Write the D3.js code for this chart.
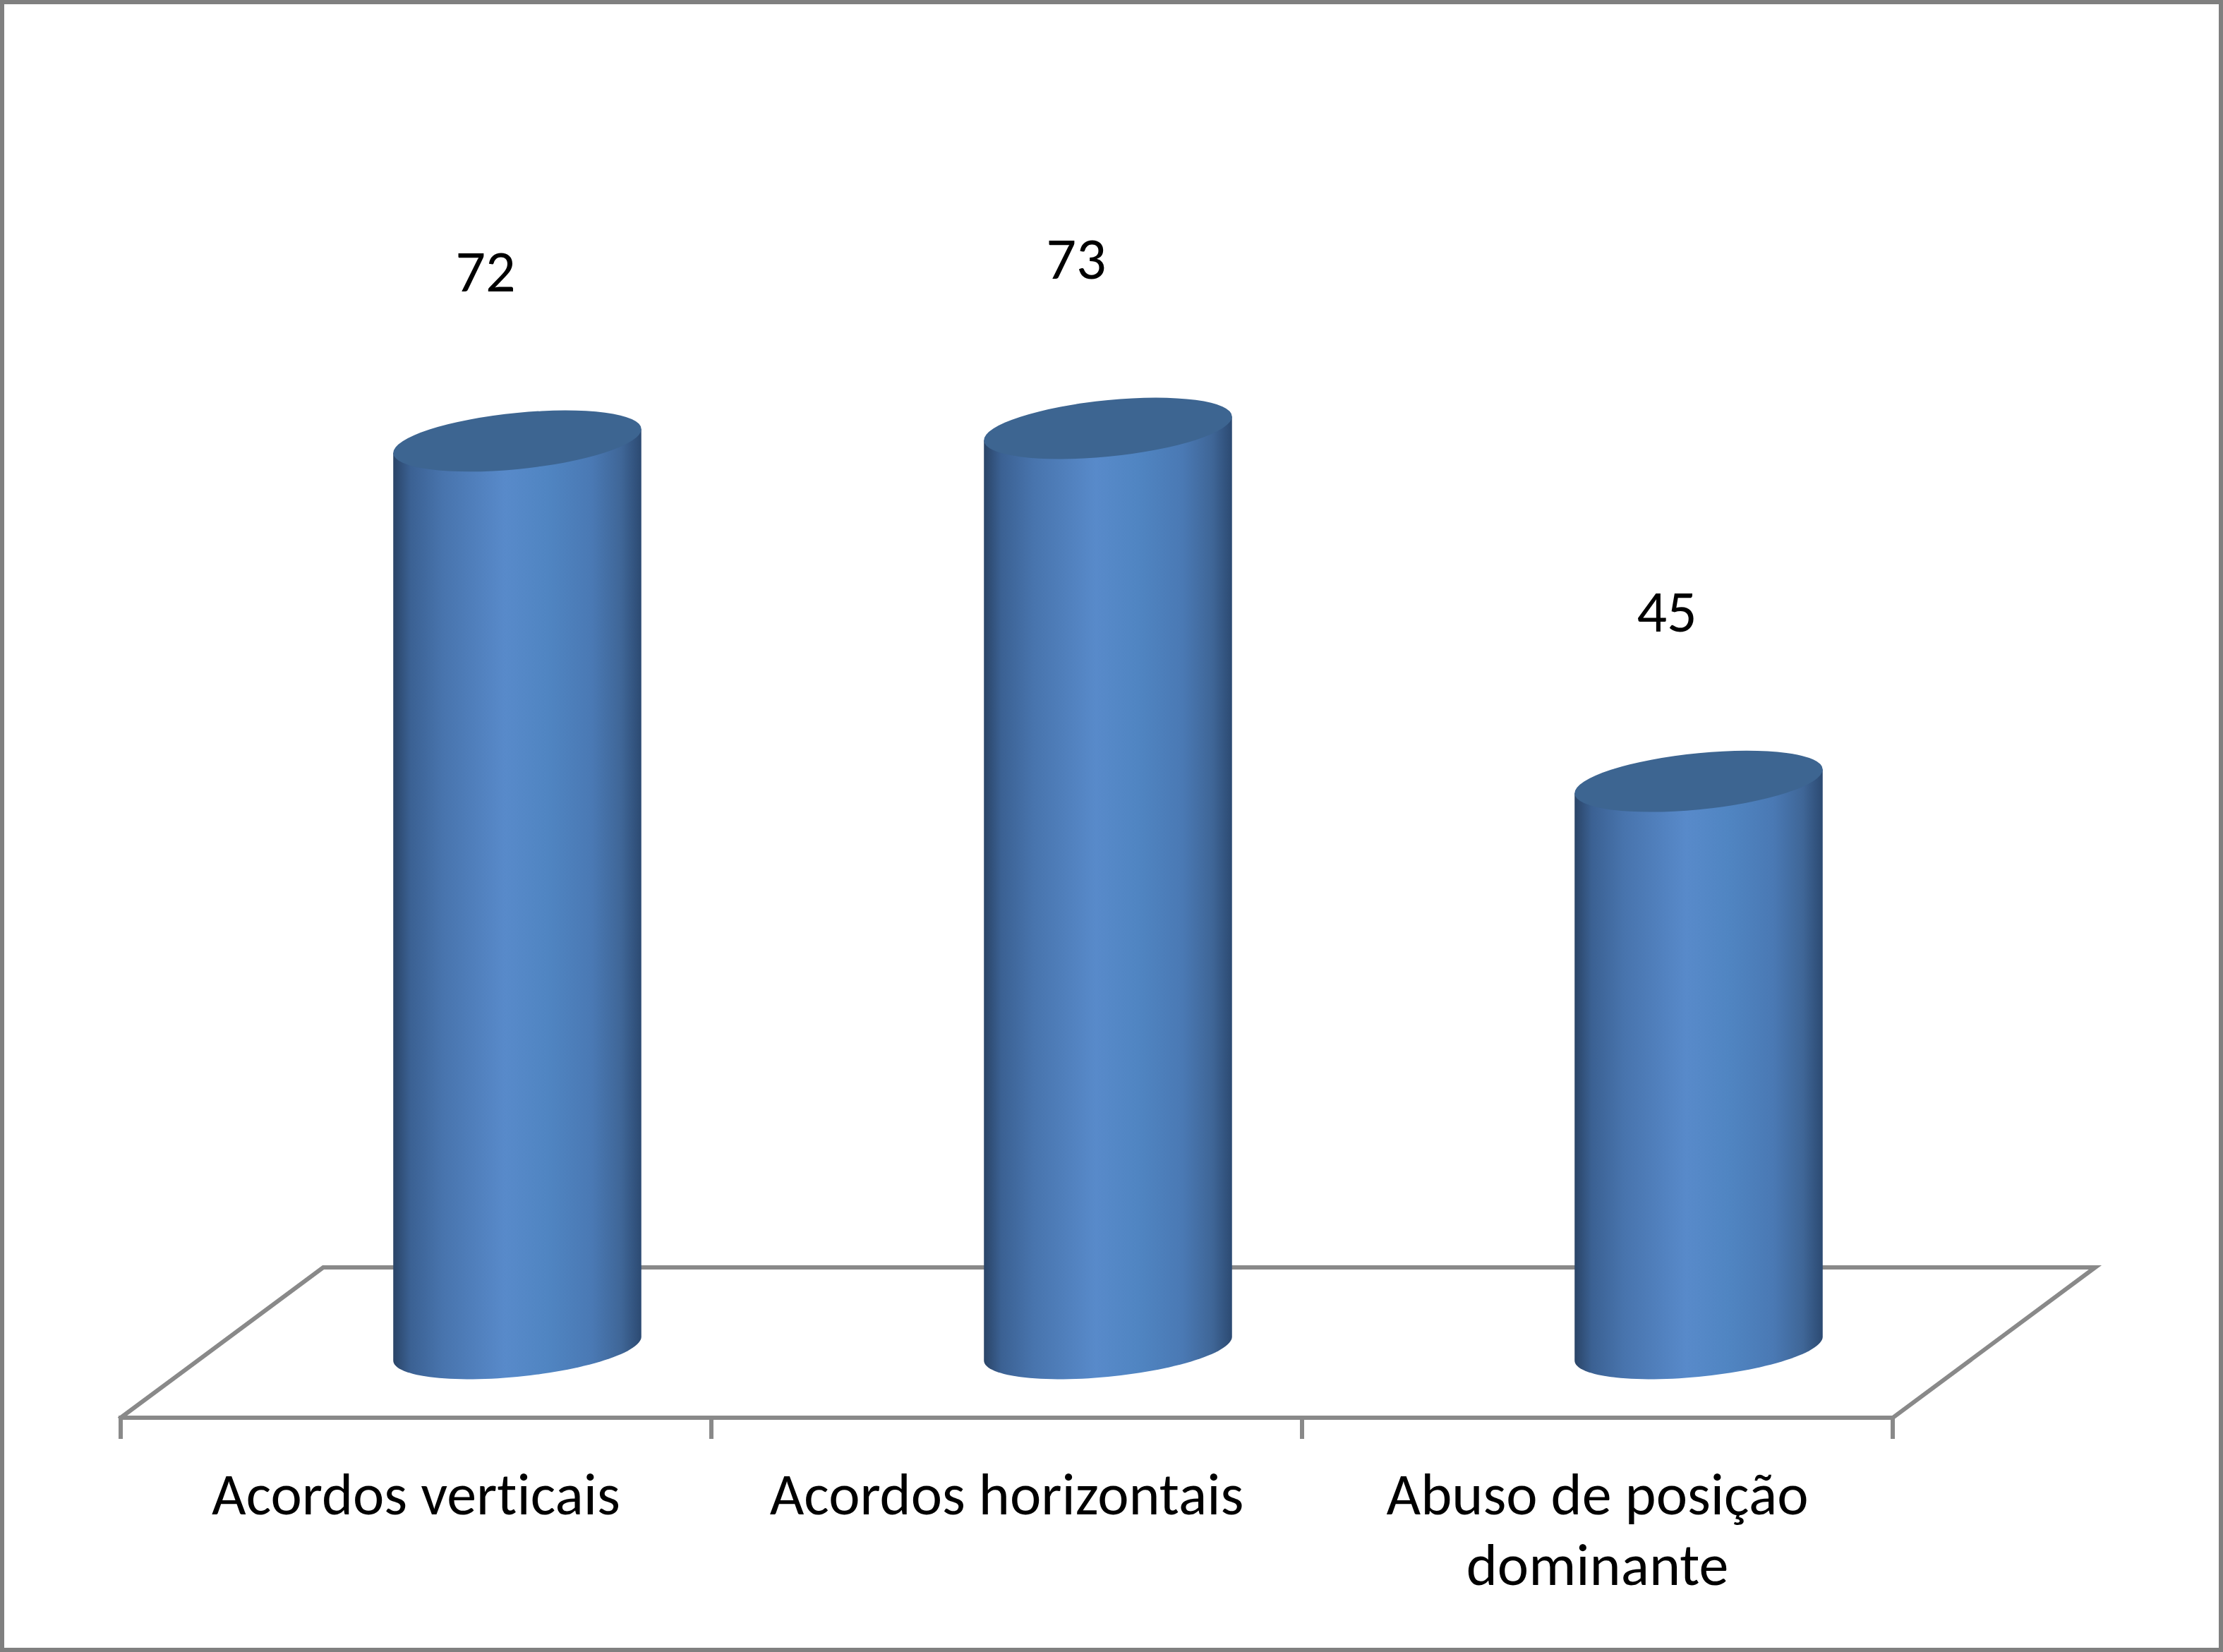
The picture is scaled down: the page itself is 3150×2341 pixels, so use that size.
<!DOCTYPE html>
<html>
<head>
<meta charset="utf-8">
<script src="https://cdn.jsdelivr.net/npm/d3@7"></script>
<style>
  body { margin: 0; background: #fff; }
  svg { display: block; }
  text { font-variant-ligatures: none; }
</style>
</head>
<body>
<div id="chart-area"></div>
<script>
// data
const categories = ["Acordos verticais", "Acordos horizontais", "Abuso de posição dominante"]
const labelLines = [["Acordos verticais"], ["Acordos horizontais"], ["Abuso de posição", "dominante"]]
const values = [72, 73, 45]

const W = 3150, H = 2341
const floorFront = 2009, floorBack = 1796
const depthX = 287          // how far the back edge of the floor is pushed right
const left = 171, right = 2682
const fontFamily = "Calibri, Carlito, Lato, 'Open Sans', sans-serif"

const svg = d3.select("#chart-area").append("svg")
    .attr("width", W)
    .attr("height", H)

// outer frame
svg.append("rect")
    .attr("x", 3).attr("y", 3)
    .attr("width", W - 6).attr("height", H - 6)
    .attr("fill", "#fff")
    .attr("stroke", "#808080")
    .attr("stroke-width", 6)

const x = d3.scaleBand()
    .domain(categories)
    .range([left, right])

const y = d3.scaleLinear()
    .domain([0, 80])
    .range([1911, 482])

// cylinder side gradient
const defs = svg.append("defs")
const grad = defs.append("linearGradient")
    .attr("id", "side")
    .attr("x1", 0).attr("x2", 1).attr("y1", 0).attr("y2", 0)
const stops = [
    [0, "#2a4467"], [0.07, "#3b6193"], [0.2, "#4874ad"], [0.45, "#588aca"],
    [0.62, "#5085c2"], [0.8, "#4a79b4"], [0.92, "#3f6697"], [1, "#2c4a72"]
]
stops.forEach(function(s) {
    grad.append("stop").attr("offset", s[0]).attr("stop-color", s[1])
})

// floor (3D base plane)
const floor = svg.append("g")
    .attr("fill", "none")
    .attr("stroke", "#898989")
    .attr("stroke-width", 6)
    .attr("stroke-linecap", "square")

floor.append("path")
    .attr("d", "M" + left + "," + floorFront + "L" + (left + depthX) + "," + floorBack +
               "L" + (right + depthX) + "," + floorBack + "L" + right + "," + floorFront)

floor.append("line")
    .attr("x1", left).attr("x2", right)
    .attr("y1", floorFront).attr("y2", floorFront)

// tick marks between categories
const tickXs = categories.map(function(d) { return x(d) }).concat([right])
floor.selectAll(".tick")
    .data(tickXs)
    .enter().append("line")
    .attr("class", "tick")
    .attr("x1", function(d) { return d }).attr("x2", function(d) { return d })
    .attr("y1", floorFront).attr("y2", floorFront + 30)
    .attr("stroke-linecap", "butt")

// cylinders
const a = x.bandwidth() * 0.21   // radius
const b = 40                      // vertical half axis of the ellipses
const k = 0.096                   // tilt of the ellipses
function cx(d) { return x(d) + x.bandwidth() / 2 + depthX / 2 }

function ellipsePt(c, cy, t) {
    return [c + a * Math.cos(t), cy + b * Math.sin(t) - k * a * Math.cos(t)]
}

function sidePath(d, v) {
    const c = cx(d), top = y(v), bot = y(0)
    const pts = []
    pts.push([c - a, top + k * a])
    // front half of bottom ellipse, from left to right
    for (let i = 0; i <= 60; i++) {
        const t = Math.PI - Math.PI * i / 60
        pts.push(ellipsePt(c, bot, t))
    }
    pts.push([c + a, top - k * a])
    return d3.line()(pts) + "Z"
}

const cyl = svg.selectAll(".cyl")
    .data(categories)
    .enter().append("g")
    .attr("class", "cyl")

cyl.append("path")
    .attr("d", function(d, i) { return sidePath(d, values[i]) })
    .attr("fill", "url(#side)")

cyl.append("ellipse")
    .attr("rx", a)
    .attr("ry", b)
    .attr("transform", function(d, i) {
        return "translate(" + cx(d) + "," + y(values[i]) + ") matrix(1," + (-k) + ",0,1,0,0)"
    })
    .attr("fill", "#3d6591")

// value labels
svg.selectAll(".value")
    .data(categories)
    .enter().append("text")
    .attr("class", "value")
    .attr("x", function(d) { return cx(d) - 45 })
    .attr("y", function(d, i) { return y(values[i]) - 212 })
    .attr("text-anchor", "middle")
    .attr("font-family", fontFamily)
    .attr("font-size", "84px")
    .attr("fill", "#000")
    .text(function(d, i) { return values[i] })

// category labels
const cat = svg.selectAll(".cat")
    .data(categories)
    .enter().append("text")
    .attr("class", "cat")
    .attr("x", function(d) { return x(d) + x.bandwidth() / 2 })
    .attr("y", 2146)
    .attr("text-anchor", "middle")
    .attr("font-family", fontFamily)
    .attr("font-size", "84px")
    .attr("fill", "#000")

cat.selectAll("tspan")
    .data(function(d, i) { return labelLines[i] })
    .enter().append("tspan")
    .attr("x", function() { return d3.select(this.parentNode).attr("x") })
    .attr("dy", function(d, j) { return j === 0 ? 0 : 100 })
    .text(function(d) { return d })
</script>
</body>
</html>
